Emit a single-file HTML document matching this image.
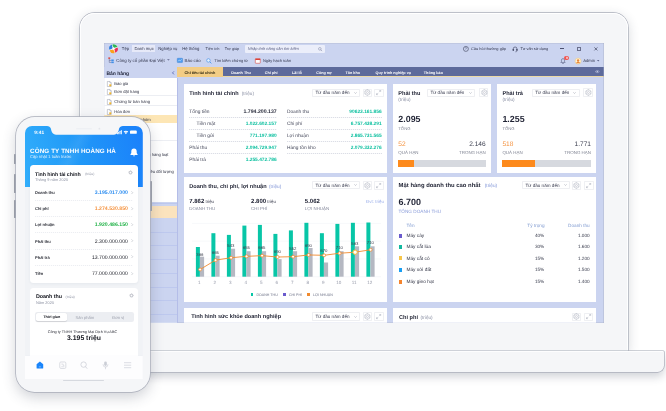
<!DOCTYPE html>
<html lang="vi"><head><meta charset="utf-8"><title>Dashboard</title>
<style>
html,body{margin:0;padding:0;background:#fff;}
body{width:666px;height:411px;overflow:hidden;position:relative;font-family:"Liberation Sans",sans-serif;text-rendering:geometricPrecision;-webkit-font-smoothing:antialiased;}
#root{position:absolute;left:0;top:0;width:666px;height:411px;overflow:hidden;will-change:transform;}
.t{position:absolute;white-space:nowrap;line-height:1;transform-origin:0 0;pointer-events:none;}
.r{position:absolute;}
svg{position:absolute;overflow:visible;}
</style></head><body><div id="root">
<div class="r" style="left:80.40px;top:13.00px;width:547.90px;height:338.00px;background:#f5f6f8;border-radius:14.5px 14.5px 0 0;box-shadow:inset 0 0 0 0.9px #fff, 0 0 0 0.7px #abafbb, 0 3px 12px rgba(40,50,70,.20);"></div>
<div class="r" style="left:44.00px;top:351.00px;width:619.70px;height:20.60px;background:#f5f6f8;border-radius:1px 1px 6.5px 6.5px;box-shadow:0 0 0 0.7px #abafbb, 0 5px 9px rgba(50,60,80,.22);clip-path:inset(-0.7px -30px -30px -30px);"></div>
<div class="r" style="left:44.50px;top:351.20px;width:618.70px;height:1.20px;background:#fdfdfe;"></div>
<div class="r" style="left:103.50px;top:42.60px;width:500.90px;height:280.20px;background:#9fa4b6;"></div>
<div class="r" id="screen" style="left:0;top:0;width:666px;height:411px;clip-path:inset(43.30px 62.30px 88.20px 104.20px);">
<div class="r" style="left:104.20px;top:43.30px;width:499.50px;height:279.50px;background:#cbd4f0;"></div>
<svg style="left:108.5px;top:44.1px" width="9.0" height="9.3" viewBox="-10 -10 20 20"><circle r="9.9" fill="#fff"/><path d="M0 0L-9.42 2.70A9.8 9.8 0 0 1 -3.99 -8.95z" fill="#2f7fe0"/><path d="M0 0L-2.70 -9.42A9.8 9.8 0 0 1 8.95 -3.99z" fill="#2fb457"/><path d="M0 0L9.42 -2.70A9.8 9.8 0 0 1 3.99 8.95z" fill="#ea3358"/><path d="M0 0L2.70 9.42A9.8 9.8 0 0 1 -8.95 3.99z" fill="#f9a11b"/><polygon points="-2.53,-6.95 0.97,-2.08 6.95,-2.53 2.08,0.97 2.53,6.95 -0.97,2.08 -6.95,2.53 -2.08,-0.97" fill="#fff"/></svg>
<div class="r" style="left:132.20px;top:45.30px;width:23.00px;height:7.00px;background:#e6e9f8;"></div>
<div class="t" style="left:121px;top:46px;width:3000px;text-align:left;font-size:42.5px;color:#34384f;transform:translate(0.80px,0.39px) scale(0.1);">Tệp</div>
<div class="t" style="left:134px;top:46px;width:3000px;text-align:left;font-size:42.5px;color:#34384f;transform:translate(0.40px,0.39px) scale(0.1);">Danh mục</div>
<div class="t" style="left:158px;top:46px;width:3000px;text-align:left;font-size:42.5px;color:#34384f;transform:translate(0.30px,0.39px) scale(0.1);">Nghiệp vụ</div>
<div class="t" style="left:182px;top:46px;width:3000px;text-align:left;font-size:42.5px;color:#34384f;transform:translate(0.20px,0.39px) scale(0.1);">Hệ thống</div>
<div class="t" style="left:205px;top:46px;width:3000px;text-align:left;font-size:39.0px;color:#34384f;transform:translate(0.60px,0.69px) scale(0.1);">Tiện ích</div>
<div class="t" style="left:224px;top:46px;width:3000px;text-align:left;font-size:39.0px;color:#34384f;transform:translate(0.70px,0.69px) scale(0.1);">Trợ giúp</div>
<div class="r" style="left:245.40px;top:45.00px;width:80.00px;height:7.50px;background:#ebeefa;border-radius:1px;"></div>
<div class="t" style="left:247px;top:46px;width:3000px;text-align:left;font-size:40.0px;color:#5d6285;transform:translate(0.80px,0.60px) scale(0.1);font-style:italic;">Nhập tính năng cần tìm kiếm</div>
<svg style="left:318.3px;top:46.6px" width="4.4" height="4.4" viewBox="0 0 10 10"><circle cx="4.2" cy="4.2" r="3" fill="none" stroke="#6a7090" stroke-width="1"/><path d="M6.4 6.4L9.3 9.3" stroke="#6a7090" stroke-width="1.1"/></svg>
<svg style="left:462.7px;top:46.0px" width="5.8" height="5.8" viewBox="0 0 10 10"><circle cx="5" cy="5" r="4.3" fill="none" stroke="#2b2f45" stroke-width="0.9"/><text x="5" y="7.3" font-size="6.5" text-anchor="middle" fill="#3b405c" font-family="Liberation Sans, sans-serif">?</text></svg>
<div class="t" style="left:470px;top:46px;width:3000px;text-align:left;font-size:39.5px;color:#34384f;transform:translate(0.90px,0.64px) scale(0.1);">Câu hỏi thường gặp</div>
<svg style="left:512.4px;top:45.8px" width="6.2" height="6.2" viewBox="0 0 10 10"><path d="M2 6V4.6a3 3 0 0 1 6 0V6" fill="none" stroke="#3b405c" stroke-width="1"/><rect x="1" y="4.8" width="2" height="3.2" rx=".7" fill="#3b405c"/><rect x="7" y="4.8" width="2" height="3.2" rx=".7" fill="#3b405c"/><path d="M8 8c0 1-1 1.4-2.6 1.4" fill="none" stroke="#3b405c" stroke-width=".8"/></svg>
<div class="t" style="left:520px;top:46px;width:3000px;text-align:left;font-size:39.0px;color:#34384f;transform:translate(0.40px,0.69px) scale(0.1);">Tư vấn sử dụng</div>
<div class="r" style="left:560.20px;top:48.40px;width:4.20px;height:1.00px;background:#4b5070;"></div>
<div class="r" style="left:576.80px;top:46.80px;width:4.00px;height:4.20px;background:transparent;box-sizing:border-box;border:0.6px solid #6a6f8c;"></div>
<svg style="left:593.8px;top:47.0px" width="3.8" height="3.8" viewBox="0 0 10 10"><path d="M1 1L9 9M9 1L1 9" stroke="#2b2f45" stroke-width="1.6"/></svg>
<svg style="left:107.6px;top:57.4px" width="6.4" height="6.4" viewBox="0 0 10 10"><rect x="0.5" y="0.6" width="3" height="2.4" fill="#e0483e"/><path d="M2 3v5.5h3.4M2 5.4h3.4" fill="none" stroke="#5a6187" stroke-width=".8"/><rect x="5.2" y="3.9" width="3.8" height="2.6" fill="#3f8ee8"/><rect x="5.2" y="7.2" width="3.8" height="2.4" fill="#3f8ee8"/></svg>
<div class="t" style="left:116px;top:58px;width:3000px;text-align:left;font-size:44.0px;color:#34384f;transform:translate(0.20px,0.26px) scale(0.1);">Công ty cổ phần Đại Việt</div>
<svg style="left:167.2px;top:59.300000000000004px" width="2.8" height="1.8" viewBox="0 0 10 6"><path d="M0 0H10L5 6z" fill="#7b82a6"/></svg>
<svg style="left:177px;top:58.2px" width="5.8" height="4.8" viewBox="0 0 12 10"><rect x=".5" y=".5" width="11" height="9" rx="1" fill="#4e9df0" stroke="#2c73c9" stroke-width=".8"/><path d="M2.5 6.8L4.8 4.2 6.6 5.8 9.6 2.8" fill="none" stroke="#fff" stroke-width="1"/></svg>
<div class="t" style="left:184px;top:58px;width:3000px;text-align:left;font-size:44.0px;color:#34384f;transform:translate(0.50px,0.26px) scale(0.1);">Báo cáo</div>
<svg style="left:206.4px;top:57.7px" width="5.8" height="5.8" viewBox="0 0 10 10"><circle cx="4.2" cy="4.2" r="3" fill="#e9f4ff" stroke="#3f8ee8" stroke-width="1.1"/><path d="M6.5 6.5L9.3 9.3" stroke="#3f8ee8" stroke-width="1.4"/></svg>
<div class="t" style="left:214px;top:58px;width:3000px;text-align:left;font-size:40.0px;color:#34384f;transform:translate(0.20px,0.60px) scale(0.1);">Tìm kiếm chứng từ</div>
<svg style="left:255.2px;top:57.800000000000004px" width="5.6" height="5.6" viewBox="0 0 10 10"><rect x=".6" y="1.2" width="8.8" height="8.2" rx=".8" fill="#fff" stroke="#d9433a" stroke-width="1"/><rect x=".6" y="1.2" width="8.8" height="2.4" fill="#d9433a"/></svg>
<div class="t" style="left:262px;top:58px;width:3000px;text-align:left;font-size:40.0px;color:#34384f;transform:translate(0.90px,0.60px) scale(0.1);">Ngày hạch toán</div>
<svg style="left:559.8px;top:57.6px" width="6" height="6" viewBox="0 0 10 10"><path d="M5 1a2.6 2.6 0 0 0-2.6 2.6V6L1.4 7.4h7.2L7.6 6V3.6A2.6 2.6 0 0 0 5 1z" fill="none" stroke="#4a5074" stroke-width=".9"/><path d="M4 8.4a1 1 0 0 0 2 0" fill="none" stroke="#4a5074" stroke-width=".9"/></svg>
<div class="r" style="left:564.40px;top:56.00px;width:5.00px;height:4.20px;background:#f0524f;border-radius:2.1px;"></div>
<div class="t" style="left:416px;top:56px;width:3000px;text-align:center;font-size:32.0px;color:#fff;transform:translate(0.90px,0.28px) scale(0.1);font-weight:700;">9</div>
<svg style="left:575.4px;top:57.5px" width="6.2" height="6.2" viewBox="0 0 10 10"><circle cx="5" cy="5" r="4.8" fill="#fff3d6" stroke="#e9b44c" stroke-width=".6"/><circle cx="5" cy="4" r="1.9" fill="#e8873a"/><path d="M1.7 8.3a3.5 3.5 0 0 1 6.6 0" fill="#e8873a"/></svg>
<div class="t" style="left:583px;top:58px;width:3000px;text-align:left;font-size:42.0px;color:#34384f;transform:translate(0.20px,0.43px) scale(0.1);">Admin</div>
<svg style="left:596.6px;top:59.9px" width="2.4" height="1.6" viewBox="0 0 10 6"><path d="M0 0H10L5 6z" fill="#5a6187"/></svg>
<div class="r" style="left:104.20px;top:66.50px;width:72.90px;height:11.30px;background:#cbd4f0;"></div>
<div class="t" style="left:106px;top:70px;width:3000px;text-align:left;font-size:50.0px;color:#1d2136;transform:translate(0.40px,0.75px) scale(0.1);font-weight:700;">Bán hàng</div>
<svg style="left:171.6px;top:70.5px" width="2.4" height="3.8" viewBox="0 0 6 10"><path d="M5 1L1.2 5 5 9" fill="none" stroke="#2f3f9a" stroke-width="1.7"/></svg>
<div class="r" style="left:104.20px;top:77.80px;width:72.90px;height:245.00px;background:#fff;"></div>
<div class="r" style="left:176.60px;top:77.80px;width:0.50px;height:245.00px;background:#b4bde8;"></div>
<svg style="left:107.2px;top:80.90px" width="4.6" height="6" viewBox="0 0 8 10"><path d="M.6.6H5L7.4 3V9.4H.6z" fill="#fff" stroke="#8a8f9e" stroke-width=".8"/><path d="M5 .6V3H7.4" fill="none" stroke="#8a8f9e" stroke-width=".7"/><rect x="4" y="5.6" width="3.4" height="3.4" fill="#f0b429"/></svg>
<div class="t" style="left:114px;top:81px;width:3000px;text-align:left;font-size:41.0px;color:#2e3142;transform:translate(0.20px,0.52px) scale(0.1);">Báo giá</div>
<svg style="left:107.2px;top:88.80px" width="4.6" height="6" viewBox="0 0 8 10"><path d="M.6.6H5L7.4 3V9.4H.6z" fill="#fff" stroke="#8a8f9e" stroke-width=".8"/><path d="M5 .6V3H7.4" fill="none" stroke="#8a8f9e" stroke-width=".7"/><rect x="4" y="5.6" width="3.4" height="3.4" fill="#f0b429"/></svg>
<div class="t" style="left:114px;top:89px;width:3000px;text-align:left;font-size:41.0px;color:#2e3142;transform:translate(0.20px,0.52px) scale(0.1);">Đơn đặt hàng</div>
<svg style="left:107.2px;top:98.90px" width="4.6" height="6" viewBox="0 0 8 10"><path d="M.6.6H5L7.4 3V9.4H.6z" fill="#fff" stroke="#8a8f9e" stroke-width=".8"/><path d="M5 .6V3H7.4" fill="none" stroke="#8a8f9e" stroke-width=".7"/><rect x="4" y="5.6" width="3.4" height="3.4" fill="#f0b429"/></svg>
<div class="t" style="left:114px;top:99px;width:3000px;text-align:left;font-size:41.0px;color:#2e3142;transform:translate(0.20px,0.52px) scale(0.1);">Chứng từ bán hàng</div>
<svg style="left:107.2px;top:108.60px" width="4.6" height="6" viewBox="0 0 8 10"><path d="M.6.6H5L7.4 3V9.4H.6z" fill="#fff" stroke="#8a8f9e" stroke-width=".8"/><path d="M5 .6V3H7.4" fill="none" stroke="#8a8f9e" stroke-width=".7"/><rect x="4" y="5.6" width="3.4" height="3.4" fill="#f0b429"/></svg>
<div class="t" style="left:114px;top:109px;width:3000px;text-align:left;font-size:41.0px;color:#2e3142;transform:translate(0.20px,0.52px) scale(0.1);">Hóa đơn</div>
<div class="r" style="left:104.20px;top:115.00px;width:72.40px;height:7.80px;background:#fde6b5;"></div>
<svg style="left:107.2px;top:116.30px" width="4.6" height="6" viewBox="0 0 8 10"><path d="M.6.6H5L7.4 3V9.4H.6z" fill="#fff" stroke="#8a8f9e" stroke-width=".8"/><path d="M5 .6V3H7.4" fill="none" stroke="#8a8f9e" stroke-width=".7"/><rect x="4" y="5.6" width="3.4" height="3.4" fill="#f0b429"/></svg>
<div class="t" style="left:114px;top:117px;width:3000px;text-align:left;font-size:41.0px;color:#2e3142;transform:translate(0.20px,0.52px) scale(0.1);">Hóa đơn theo nhóm</div>
<svg style="left:107.2px;top:125.60px" width="4.6" height="6" viewBox="0 0 8 10"><path d="M.6.6H5L7.4 3V9.4H.6z" fill="#fff" stroke="#8a8f9e" stroke-width=".8"/><path d="M5 .6V3H7.4" fill="none" stroke="#8a8f9e" stroke-width=".7"/><rect x="4" y="5.6" width="3.4" height="3.4" fill="#f0b429"/></svg>
<div class="t" style="left:114px;top:126px;width:3000px;text-align:left;font-size:41.0px;color:#2e3142;transform:translate(0.20px,0.52px) scale(0.1);">Trả lại hàng bán</div>
<svg style="left:107.2px;top:133.40px" width="4.6" height="6" viewBox="0 0 8 10"><path d="M.6.6H5L7.4 3V9.4H.6z" fill="#fff" stroke="#8a8f9e" stroke-width=".8"/><path d="M5 .6V3H7.4" fill="none" stroke="#8a8f9e" stroke-width=".7"/><rect x="4" y="5.6" width="3.4" height="3.4" fill="#f0b429"/></svg>
<div class="t" style="left:114px;top:134px;width:3000px;text-align:left;font-size:41.0px;color:#2e3142;transform:translate(0.20px,0.51px) scale(0.1);">Giảm giá</div>
<svg style="left:107.2px;top:143.30px" width="4.6" height="6" viewBox="0 0 8 10"><path d="M.6.6H5L7.4 3V9.4H.6z" fill="#fff" stroke="#8a8f9e" stroke-width=".8"/><path d="M5 .6V3H7.4" fill="none" stroke="#8a8f9e" stroke-width=".7"/><rect x="4" y="5.6" width="3.4" height="3.4" fill="#f0b429"/></svg>
<div class="t" style="left:114px;top:144px;width:3000px;text-align:left;font-size:41.0px;color:#2e3142;transform:translate(0.20px,0.51px) scale(0.1);">Thu tiền</div>
<svg style="left:107.2px;top:151.80px" width="4.6" height="6" viewBox="0 0 8 10"><path d="M.6.6H5L7.4 3V9.4H.6z" fill="#fff" stroke="#8a8f9e" stroke-width=".8"/><path d="M5 .6V3H7.4" fill="none" stroke="#8a8f9e" stroke-width=".7"/><rect x="4" y="5.6" width="3.4" height="3.4" fill="#f0b429"/></svg>
<div class="t" style="left:-132px;top:152px;width:3000px;text-align:right;font-size:41.0px;color:#2e3142;transform:translate(0.50px,0.51px) scale(0.1);">Thu tiền khách hàng hàng loạt</div>
<svg style="left:107.2px;top:160.40px" width="4.6" height="6" viewBox="0 0 8 10"><path d="M.6.6H5L7.4 3V9.4H.6z" fill="#fff" stroke="#8a8f9e" stroke-width=".8"/><path d="M5 .6V3H7.4" fill="none" stroke="#8a8f9e" stroke-width=".7"/><rect x="4" y="5.6" width="3.4" height="3.4" fill="#f0b429"/></svg>
<div class="t" style="left:114px;top:161px;width:3000px;text-align:left;font-size:41.0px;color:#2e3142;transform:translate(0.20px,0.51px) scale(0.1);">Bù trừ công nợ</div>
<svg style="left:107.2px;top:168.90px" width="4.6" height="6" viewBox="0 0 8 10"><path d="M.6.6H5L7.4 3V9.4H.6z" fill="#fff" stroke="#8a8f9e" stroke-width=".8"/><path d="M5 .6V3H7.4" fill="none" stroke="#8a8f9e" stroke-width=".7"/><rect x="4" y="5.6" width="3.4" height="3.4" fill="#f0b429"/></svg>
<div class="t" style="left:-127px;top:169px;width:3000px;text-align:right;font-size:41.0px;color:#2e3142;transform:translate(0.90px,0.51px) scale(0.1);">Đối trừ chứng từ nhiều đối tượng</div>
<svg style="left:107.2px;top:177.40px" width="4.6" height="6" viewBox="0 0 8 10"><path d="M.6.6H5L7.4 3V9.4H.6z" fill="#fff" stroke="#8a8f9e" stroke-width=".8"/><path d="M5 .6V3H7.4" fill="none" stroke="#8a8f9e" stroke-width=".7"/><rect x="4" y="5.6" width="3.4" height="3.4" fill="#f0b429"/></svg>
<div class="t" style="left:114px;top:178px;width:3000px;text-align:left;font-size:41.0px;color:#2e3142;transform:translate(0.20px,0.51px) scale(0.1);">Tính giá bán</div>
<svg style="left:107.2px;top:186.00px" width="4.6" height="6" viewBox="0 0 8 10"><path d="M.6.6H5L7.4 3V9.4H.6z" fill="#fff" stroke="#8a8f9e" stroke-width=".8"/><path d="M5 .6V3H7.4" fill="none" stroke="#8a8f9e" stroke-width=".7"/><rect x="4" y="5.6" width="3.4" height="3.4" fill="#f0b429"/></svg>
<div class="t" style="left:114px;top:186px;width:3000px;text-align:left;font-size:41.0px;color:#2e3142;transform:translate(0.20px,0.51px) scale(0.1);">Phân tích</div>
<div class="r" style="left:104.20px;top:95.40px;width:72.40px;height:0.40px;background:#eceef3;"></div>
<div class="r" style="left:104.20px;top:105.30px;width:72.40px;height:0.40px;background:#eceef3;"></div>
<div class="r" style="left:104.20px;top:140.00px;width:72.40px;height:0.40px;background:#eceef3;"></div>
<div class="r" style="left:104.20px;top:201.80px;width:72.40px;height:121.00px;background:#cbd4f0;"></div>
<div class="r" style="left:104.20px;top:202.60px;width:72.40px;height:0.80px;background:#bdc8ee;"></div>
<div class="r" style="left:104.20px;top:205.50px;width:72.40px;height:12.50px;background:#fbe3bd;"></div>
<div class="r" style="left:104.20px;top:231.55px;width:72.40px;height:0.50px;background:#bdc8ee;"></div>
<div class="r" style="left:104.20px;top:245.30px;width:72.40px;height:0.50px;background:#bdc8ee;"></div>
<div class="r" style="left:104.20px;top:259.05px;width:72.40px;height:0.50px;background:#bdc8ee;"></div>
<div class="r" style="left:104.20px;top:272.80px;width:72.40px;height:0.50px;background:#bdc8ee;"></div>
<div class="r" style="left:104.20px;top:286.55px;width:72.40px;height:0.50px;background:#bdc8ee;"></div>
<div class="r" style="left:104.20px;top:300.30px;width:72.40px;height:0.50px;background:#bdc8ee;"></div>
<div class="r" style="left:104.20px;top:314.05px;width:72.40px;height:0.50px;background:#bdc8ee;"></div>
<div class="r" style="left:104.20px;top:327.80px;width:72.40px;height:0.50px;background:#bdc8ee;"></div>
<div class="r" style="left:177.10px;top:66.50px;width:426.60px;height:10.50px;background:#5d6a9b;"></div>
<div class="r" style="left:177.10px;top:75.90px;width:426.60px;height:1.10px;background:#ecd9a6;"></div>
<div class="r" style="left:177.10px;top:67.00px;width:46.30px;height:10.00px;background:#f3cd85;"></div>
<div class="t" style="left:184px;top:70px;width:3000px;text-align:left;font-size:38.0px;color:#2a2410;transform:translate(0.60px,0.77px) scale(0.1);font-weight:700;">Chỉ tiêu tài chính</div>
<div class="t" style="left:231px;top:70px;width:3000px;text-align:left;font-size:37.5px;color:#fff;transform:translate(0.20px,0.81px) scale(0.1);font-weight:700;">Doanh Thu</div>
<div class="t" style="left:264px;top:70px;width:3000px;text-align:left;font-size:37.5px;color:#fff;transform:translate(0.80px,0.81px) scale(0.1);font-weight:700;">Chi phí</div>
<div class="t" style="left:292px;top:70px;width:3000px;text-align:left;font-size:37.5px;color:#fff;transform:translate(0.00px,0.81px) scale(0.1);font-weight:700;">Lãi lỗ</div>
<div class="t" style="left:316px;top:70px;width:3000px;text-align:left;font-size:37.5px;color:#fff;transform:translate(0.20px,0.81px) scale(0.1);font-weight:700;">Công nợ</div>
<div class="t" style="left:345px;top:70px;width:3000px;text-align:left;font-size:37.5px;color:#fff;transform:translate(0.40px,0.81px) scale(0.1);font-weight:700;">Tồn kho</div>
<div class="t" style="left:375px;top:70px;width:3000px;text-align:left;font-size:37.5px;color:#fff;transform:translate(0.60px,0.81px) scale(0.1);font-weight:700;">Quy trình nghiệp vụ</div>
<div class="t" style="left:423px;top:70px;width:3000px;text-align:left;font-size:37.5px;color:#fff;transform:translate(0.80px,0.81px) scale(0.1);font-weight:700;">Thông báo</div>
<svg style="left:595.4px;top:70.3px" width="4.6" height="3.2" viewBox="0 0 12 8"><path d="M.6 4C3 .4 9 .4 11.400 4 9 7.600 3 7.600.6 4z" fill="none" stroke="#dfe3f5" stroke-width="1"/><circle cx="6" cy="4" r="1.7" fill="#dfe3f5"/></svg>
<div class="r" style="left:183.90px;top:84.40px;width:203.60px;height:88.40px;background:#fff;"></div>
<div class="t" style="left:189px;top:90px;width:3000px;text-align:left;font-size:55.5px;color:#1f2233;transform:translate(0.20px,0.28px) scale(0.1);font-weight:700;">Tình hình tài chính</div>
<div class="t" style="left:241px;top:91px;width:3000px;text-align:left;font-size:47.0px;color:#8a8fa3;transform:translate(0.70px,0.00px) scale(0.1);">(triệu)</div>
<div class="r" style="left:312.40px;top:88.60px;width:47.50px;height:8.40px;background:#fff;box-sizing:border-box;border:0.5px solid #eeeff2;border-radius:0.8px;"></div>
<div class="t" style="left:315px;top:90px;width:3000px;text-align:left;font-size:46.0px;color:#33364a;transform:translate(0.50px,0.09px) scale(0.1);">Từ đầu năm đến</div>
<svg style="left:353.50px;top:91.90px" width="3" height="1.8" viewBox="0 0 10 6"><path d="M1 1L5 5 9 1" fill="none" stroke="#7a7f92" stroke-width="1.3"/></svg>
<div class="r" style="left:362.60px;top:88.60px;width:9.20px;height:8.60px;background:#fff;box-sizing:border-box;border:0.5px solid #eff0f3;border-radius:0.8px;"></div>
<svg style="left:363.80px;top:89.40px" width="6.8" height="7" viewBox="-10 -10 20 20"><path d="M0-8.600L7.400-4.300V4.300L0 8.600-7.400 4.300V-4.300z" fill="none" stroke="#a9adbb" stroke-width="1.500" stroke-linejoin="round"/><circle r="3" fill="none" stroke="#a9adbb" stroke-width="1.400"/><path d="M0-8.600V-5.500M0 8.600V5.500M7.400-4.300L4.800-2.800M-7.400-4.300L-4.800-2.800M7.400 4.300L4.800 2.800M-7.400 4.300L-4.800 2.800" stroke="#a9adbb" stroke-width="1"/></svg>
<div class="r" style="left:374.40px;top:88.60px;width:9.20px;height:8.60px;background:#fff;box-sizing:border-box;border:0.5px solid #eff0f3;border-radius:0.8px;"></div>
<svg style="left:376.40px;top:90.30px" width="5.2" height="5.2" viewBox="0 0 10 10"><path d="M6.2 1H9V3.8M9 1L5.8 4.200M3.8 9H1V6.200M1 9L4.200 5.800" fill="none" stroke="#a0a4b3" stroke-width=".9"/></svg>
<div class="t" style="left:189px;top:108px;width:3000px;text-align:left;font-size:48.5px;color:#45485a;transform:translate(0.30px,0.88px) scale(0.1);">Tổng tiền</div>
<div class="t" style="left:-24px;top:108px;width:3000px;text-align:right;font-size:52.0px;color:#1f2233;transform:translate(0.70px,0.58px) scale(0.1);font-weight:700;">1.794.200.137</div>
<div class="r" style="left:189px;top:117px;width:88px;height:1px;background:repeating-linear-gradient(90deg,#dcdee6 0,#dcdee6 1px,#f6f7f9 1px,#f6f7f9 2px);"></div>
<div class="t" style="left:196px;top:120px;width:3000px;text-align:left;font-size:48.5px;color:#45485a;transform:translate(0.60px,0.88px) scale(0.1);">Tiền mặt</div>
<div class="t" style="left:-24px;top:120px;width:3000px;text-align:right;font-size:48.5px;color:#10c1a1;transform:translate(0.70px,0.88px) scale(0.1);font-weight:700;">1.022.602.157</div>
<div class="r" style="left:189px;top:129px;width:88px;height:1px;background:repeating-linear-gradient(90deg,#dcdee6 0,#dcdee6 1px,#f6f7f9 1px,#f6f7f9 2px);"></div>
<div class="t" style="left:196px;top:132px;width:3000px;text-align:left;font-size:48.5px;color:#45485a;transform:translate(0.60px,0.88px) scale(0.1);">Tiền gửi</div>
<div class="t" style="left:-24px;top:132px;width:3000px;text-align:right;font-size:48.5px;color:#10c1a1;transform:translate(0.70px,0.88px) scale(0.1);font-weight:700;">771.197.980</div>
<div class="r" style="left:189px;top:141px;width:88px;height:1px;background:repeating-linear-gradient(90deg,#dcdee6 0,#dcdee6 1px,#f6f7f9 1px,#f6f7f9 2px);"></div>
<div class="t" style="left:189px;top:144px;width:3000px;text-align:left;font-size:48.5px;color:#45485a;transform:translate(0.30px,0.88px) scale(0.1);">Phải thu</div>
<div class="t" style="left:-24px;top:144px;width:3000px;text-align:right;font-size:48.5px;color:#10c1a1;transform:translate(0.70px,0.88px) scale(0.1);font-weight:700;">2.094.729.947</div>
<div class="r" style="left:189px;top:153px;width:88px;height:1px;background:repeating-linear-gradient(90deg,#dcdee6 0,#dcdee6 1px,#f6f7f9 1px,#f6f7f9 2px);"></div>
<div class="t" style="left:189px;top:156px;width:3000px;text-align:left;font-size:48.5px;color:#45485a;transform:translate(0.30px,0.88px) scale(0.1);">Phải trả</div>
<div class="t" style="left:-24px;top:156px;width:3000px;text-align:right;font-size:48.5px;color:#10c1a1;transform:translate(0.70px,0.88px) scale(0.1);font-weight:700;">1.255.472.786</div>
<div class="t" style="left:286px;top:108px;width:3000px;text-align:left;font-size:48.5px;color:#45485a;transform:translate(0.90px,0.88px) scale(0.1);">Doanh thu</div>
<div class="t" style="left:81px;top:108px;width:3000px;text-align:right;font-size:48.5px;color:#10c1a1;transform:translate(0.70px,0.88px) scale(0.1);font-weight:700;">90623.161.856</div>
<div class="r" style="left:287px;top:117px;width:95px;height:1px;background:repeating-linear-gradient(90deg,#dcdee6 0,#dcdee6 1px,#f6f7f9 1px,#f6f7f9 2px);"></div>
<div class="t" style="left:286px;top:120px;width:3000px;text-align:left;font-size:48.5px;color:#45485a;transform:translate(0.90px,0.88px) scale(0.1);">Chi phí</div>
<div class="t" style="left:81px;top:120px;width:3000px;text-align:right;font-size:48.5px;color:#10c1a1;transform:translate(0.70px,0.88px) scale(0.1);font-weight:700;">6.757.438.291</div>
<div class="r" style="left:287px;top:129px;width:95px;height:1px;background:repeating-linear-gradient(90deg,#dcdee6 0,#dcdee6 1px,#f6f7f9 1px,#f6f7f9 2px);"></div>
<div class="t" style="left:286px;top:132px;width:3000px;text-align:left;font-size:48.5px;color:#45485a;transform:translate(0.90px,0.88px) scale(0.1);">Lợi nhuận</div>
<div class="t" style="left:81px;top:132px;width:3000px;text-align:right;font-size:48.5px;color:#10c1a1;transform:translate(0.70px,0.88px) scale(0.1);font-weight:700;">2.865.731.565</div>
<div class="r" style="left:287px;top:141px;width:95px;height:1px;background:repeating-linear-gradient(90deg,#dcdee6 0,#dcdee6 1px,#f6f7f9 1px,#f6f7f9 2px);"></div>
<div class="t" style="left:286px;top:144px;width:3000px;text-align:left;font-size:48.5px;color:#45485a;transform:translate(0.90px,0.88px) scale(0.1);">Hàng tồn kho</div>
<div class="t" style="left:81px;top:144px;width:3000px;text-align:right;font-size:48.5px;color:#10c1a1;transform:translate(0.70px,0.88px) scale(0.1);font-weight:700;">2.079.332.276</div>
<div class="r" style="left:287px;top:153px;width:95px;height:1px;background:repeating-linear-gradient(90deg,#dcdee6 0,#dcdee6 1px,#f6f7f9 1px,#f6f7f9 2px);"></div>
<div class="r" style="left:183.90px;top:176.50px;width:203.60px;height:125.70px;background:#fff;"></div>
<div class="t" style="left:189px;top:183px;width:3000px;text-align:left;font-size:56.0px;color:#1f2233;transform:translate(0.20px,0.24px) scale(0.1);font-weight:700;">Doanh thu, chi phí, lợi nhuận</div>
<div class="t" style="left:269px;top:184px;width:3000px;text-align:left;font-size:47.0px;color:#7e93d6;transform:translate(0.00px,0.00px) scale(0.1);">(triệu)</div>
<div class="r" style="left:312.40px;top:181.00px;width:47.50px;height:8.40px;background:#fff;box-sizing:border-box;border:0.5px solid #eeeff2;border-radius:0.8px;"></div>
<div class="t" style="left:315px;top:183px;width:3000px;text-align:left;font-size:46.0px;color:#33364a;transform:translate(0.50px,0.09px) scale(0.1);">Từ đầu năm đến</div>
<svg style="left:353.50px;top:184.30px" width="3" height="1.8" viewBox="0 0 10 6"><path d="M1 1L5 5 9 1" fill="none" stroke="#7a7f92" stroke-width="1.3"/></svg>
<div class="r" style="left:362.60px;top:181.00px;width:9.20px;height:8.60px;background:#fff;box-sizing:border-box;border:0.5px solid #eff0f3;border-radius:0.8px;"></div>
<svg style="left:363.80px;top:181.80px" width="6.8" height="7" viewBox="-10 -10 20 20"><path d="M0-8.600L7.400-4.300V4.300L0 8.600-7.400 4.300V-4.300z" fill="none" stroke="#a9adbb" stroke-width="1.500" stroke-linejoin="round"/><circle r="3" fill="none" stroke="#a9adbb" stroke-width="1.400"/><path d="M0-8.600V-5.500M0 8.600V5.500M7.400-4.300L4.800-2.800M-7.400-4.300L-4.800-2.800M7.400 4.300L4.800 2.800M-7.400 4.300L-4.800 2.800" stroke="#a9adbb" stroke-width="1"/></svg>
<div class="r" style="left:374.40px;top:181.00px;width:9.20px;height:8.60px;background:#fff;box-sizing:border-box;border:0.5px solid #eff0f3;border-radius:0.8px;"></div>
<svg style="left:376.40px;top:182.70px" width="5.2" height="5.2" viewBox="0 0 10 10"><path d="M6.2 1H9V3.8M9 1L5.8 4.200M3.8 9H1V6.200M1 9L4.200 5.800" fill="none" stroke="#a0a4b3" stroke-width=".9"/></svg>
<div class="t" style="left:189px;top:197px;width:3000px;text-align:left;font-size:60.0px;color:#1f2233;transform:translate(0.20px,0.90px) scale(0.1);font-weight:700;">7.862<span style="font-weight:400;font-size:.74em;color:#3a3d4e"> triệu</span></div>
<div class="t" style="left:189px;top:206px;width:3000px;text-align:left;font-size:44.0px;color:#83879a;transform:translate(0.20px,0.26px) scale(0.1);">DOANH THU</div>
<div class="t" style="left:251px;top:197px;width:3000px;text-align:left;font-size:60.0px;color:#1f2233;transform:translate(0.10px,0.90px) scale(0.1);font-weight:700;">2.800<span style="font-weight:400;font-size:.74em;color:#3a3d4e"> triệu</span></div>
<div class="t" style="left:251px;top:206px;width:3000px;text-align:left;font-size:44.0px;color:#83879a;transform:translate(0.10px,0.26px) scale(0.1);">CHI PHÍ</div>
<div class="t" style="left:304px;top:197px;width:3000px;text-align:left;font-size:60.0px;color:#1f2233;transform:translate(0.80px,0.90px) scale(0.1);font-weight:700;">5.062</div>
<div class="t" style="left:304px;top:206px;width:3000px;text-align:left;font-size:44.0px;color:#83879a;transform:translate(0.80px,0.26px) scale(0.1);">LỢI NHUẬN</div>
<div class="t" style="left:84px;top:199px;width:3000px;text-align:right;font-size:45.0px;color:#9db0ea;transform:translate(0.00px,0.18px) scale(0.1);">Đvt: triệu</div>
<svg style="left:0;top:0" width="666" height="411" viewBox="0 0 666 411" font-family="Liberation Sans, sans-serif"><path d="M192 276.70H381" stroke="#eef0f5" stroke-width=".5"/><path d="M192 258.93H381" stroke="#eef0f5" stroke-width=".5"/><path d="M192 241.16H381" stroke="#eef0f5" stroke-width=".5"/><path d="M192 223.39H381" stroke="#eef0f5" stroke-width=".5"/><rect x="195.90" y="247.00" width="4.0" height="29.70" fill="#08c6a7"/><rect x="199.90" y="256.70" width="4.2" height="20.00" fill="#b5b8c2"/><rect x="211.40" y="233.20" width="4.0" height="43.50" fill="#08c6a7"/><rect x="215.40" y="255.70" width="4.2" height="21.00" fill="#b5b8c2"/><rect x="226.90" y="234.90" width="4.0" height="41.80" fill="#08c6a7"/><rect x="230.90" y="248.70" width="4.2" height="28.00" fill="#b5b8c2"/><rect x="242.40" y="225.60" width="4.0" height="51.10" fill="#08c6a7"/><rect x="246.40" y="251.20" width="4.2" height="25.50" fill="#b5b8c2"/><rect x="257.90" y="224.90" width="4.0" height="51.80" fill="#08c6a7"/><rect x="261.90" y="251.20" width="4.2" height="25.50" fill="#b5b8c2"/><rect x="273.40" y="233.90" width="4.0" height="42.80" fill="#08c6a7"/><rect x="277.40" y="259.10" width="4.2" height="17.60" fill="#b5b8c2"/><rect x="288.90" y="230.40" width="4.0" height="46.30" fill="#08c6a7"/><rect x="292.90" y="251.20" width="4.2" height="25.50" fill="#b5b8c2"/><rect x="304.40" y="222.80" width="4.0" height="53.90" fill="#08c6a7"/><rect x="308.40" y="248.00" width="4.2" height="28.70" fill="#b5b8c2"/><rect x="319.90" y="233.20" width="4.0" height="43.50" fill="#08c6a7"/><rect x="323.90" y="262.50" width="4.2" height="14.20" fill="#b5b8c2"/><rect x="335.40" y="223.90" width="4.0" height="52.80" fill="#08c6a7"/><rect x="339.40" y="251.20" width="4.2" height="25.50" fill="#b5b8c2"/><rect x="350.90" y="222.80" width="4.0" height="53.90" fill="#08c6a7"/><rect x="354.90" y="246.30" width="4.2" height="30.40" fill="#b5b8c2"/><rect x="366.40" y="222.50" width="4.0" height="54.20" fill="#08c6a7"/><rect x="370.40" y="246.30" width="4.2" height="30.40" fill="#b5b8c2"/><polyline fill="none" stroke="#f08a2e" stroke-width=".9" points="200.10,269.46 215.60,260.14 231.10,257.72 246.60,256.34 262.10,255.65 277.60,257.03 293.10,256.69 308.60,254.96 324.10,255.30 339.60,253.23 355.10,252.20 370.60,249.78"/><circle cx="200.10" cy="269.46" r="1.5" fill="#fff" stroke="#f08a2e" stroke-width=".8"/><circle cx="215.60" cy="260.14" r="1.5" fill="#fff" stroke="#f08a2e" stroke-width=".8"/><circle cx="231.10" cy="257.72" r="1.5" fill="#fff" stroke="#f08a2e" stroke-width=".8"/><circle cx="246.60" cy="256.34" r="1.5" fill="#fff" stroke="#f08a2e" stroke-width=".8"/><circle cx="262.10" cy="255.65" r="1.5" fill="#fff" stroke="#f08a2e" stroke-width=".8"/><circle cx="277.60" cy="257.03" r="1.5" fill="#fff" stroke="#f08a2e" stroke-width=".8"/><circle cx="293.10" cy="256.69" r="1.5" fill="#fff" stroke="#f08a2e" stroke-width=".8"/><circle cx="308.60" cy="254.96" r="1.5" fill="#fff" stroke="#f08a2e" stroke-width=".8"/><circle cx="324.10" cy="255.30" r="1.5" fill="#fff" stroke="#f08a2e" stroke-width=".8"/><circle cx="339.60" cy="253.23" r="1.5" fill="#fff" stroke="#f08a2e" stroke-width=".8"/><circle cx="355.10" cy="252.20" r="2.2" fill="#fff" stroke="#f2b632" stroke-width="1"/><circle cx="370.60" cy="249.78" r="1.5" fill="#fff" stroke="#f08a2e" stroke-width=".8"/><text x="199.90" y="256" font-size="4.3" fill="#3c3f4d" text-anchor="middle">366</text><text x="199.20" y="284" font-size="4.6" fill="#999dac" text-anchor="middle">1</text><text x="215.40" y="254" font-size="4.3" fill="#3c3f4d" text-anchor="middle">665</text><text x="214.70" y="284" font-size="4.6" fill="#999dac" text-anchor="middle">2</text><text x="230.90" y="247" font-size="4.3" fill="#3c3f4d" text-anchor="middle">543</text><text x="230.20" y="284" font-size="4.6" fill="#999dac" text-anchor="middle">3</text><text x="246.40" y="249" font-size="4.3" fill="#3c3f4d" text-anchor="middle">655</text><text x="245.70" y="284" font-size="4.6" fill="#999dac" text-anchor="middle">4</text><text x="261.90" y="249" font-size="4.3" fill="#3c3f4d" text-anchor="middle">665</text><text x="261.20" y="284" font-size="4.6" fill="#999dac" text-anchor="middle">5</text><text x="277.40" y="253" font-size="4.3" fill="#3c3f4d" text-anchor="middle">690</text><text x="276.70" y="284" font-size="4.6" fill="#999dac" text-anchor="middle">6</text><text x="292.90" y="250" font-size="4.3" fill="#3c3f4d" text-anchor="middle">552</text><text x="292.20" y="284" font-size="4.6" fill="#999dac" text-anchor="middle">7</text><text x="308.40" y="247" font-size="4.3" fill="#3c3f4d" text-anchor="middle">690</text><text x="307.70" y="284" font-size="4.6" fill="#999dac" text-anchor="middle">8</text><text x="323.90" y="252" font-size="4.3" fill="#3c3f4d" text-anchor="middle">670</text><text x="323.20" y="284" font-size="4.6" fill="#999dac" text-anchor="middle">9</text><text x="339.40" y="249" font-size="4.3" fill="#3c3f4d" text-anchor="middle">710</text><text x="338.70" y="284" font-size="4.6" fill="#999dac" text-anchor="middle">10</text><text x="354.90" y="245" font-size="4.3" fill="#3c3f4d" text-anchor="middle">563</text><text x="354.20" y="284" font-size="4.6" fill="#999dac" text-anchor="middle">11</text><text x="370.40" y="244" font-size="4.3" fill="#3c3f4d" text-anchor="middle">710</text><text x="369.70" y="284" font-size="4.6" fill="#999dac" text-anchor="middle">12</text></svg>
<div class="r" style="left:250.60px;top:292.90px;width:2.80px;height:2.90px;background:#08c6a7;"></div>
<div class="t" style="left:256px;top:292px;width:3000px;text-align:left;font-size:36.0px;color:#6b7085;transform:translate(0.40px,0.94px) scale(0.1);">DOANH THU</div>
<div class="r" style="left:283.00px;top:292.90px;width:2.80px;height:2.90px;background:#6a5acd;"></div>
<div class="t" style="left:288px;top:292px;width:3000px;text-align:left;font-size:36.0px;color:#6b7085;transform:translate(0.90px,0.94px) scale(0.1);">CHI PHÍ</div>
<div class="r" style="left:307.00px;top:292.90px;width:2.80px;height:2.90px;background:#f08a2e;"></div>
<div class="t" style="left:312px;top:292px;width:3000px;text-align:left;font-size:36.0px;color:#6b7085;transform:translate(0.90px,0.94px) scale(0.1);">LỢI NHUẬN</div>
<div class="r" style="left:183.90px;top:308.00px;width:203.60px;height:16.80px;background:#fff;"></div>
<div class="t" style="left:191px;top:313px;width:3000px;text-align:left;font-size:56.0px;color:#1f2233;transform:translate(0.20px,0.24px) scale(0.1);font-weight:700;">Tình hình sức khỏe doanh nghiệp</div>
<div class="r" style="left:312.40px;top:312.20px;width:47.50px;height:8.40px;background:#fff;box-sizing:border-box;border:0.5px solid #eeeff2;border-radius:0.8px;"></div>
<div class="t" style="left:315px;top:314px;width:3000px;text-align:left;font-size:46.0px;color:#33364a;transform:translate(0.50px,0.09px) scale(0.1);">Từ đầu năm đến</div>
<svg style="left:353.50px;top:315.50px" width="3" height="1.8" viewBox="0 0 10 6"><path d="M1 1L5 5 9 1" fill="none" stroke="#7a7f92" stroke-width="1.3"/></svg>
<div class="r" style="left:362.60px;top:312.20px;width:9.20px;height:8.60px;background:#fff;box-sizing:border-box;border:0.5px solid #eff0f3;border-radius:0.8px;"></div>
<svg style="left:363.80px;top:313.00px" width="6.8" height="7" viewBox="-10 -10 20 20"><path d="M0-8.600L7.400-4.300V4.300L0 8.600-7.400 4.300V-4.300z" fill="none" stroke="#a9adbb" stroke-width="1.500" stroke-linejoin="round"/><circle r="3" fill="none" stroke="#a9adbb" stroke-width="1.400"/><path d="M0-8.600V-5.500M0 8.600V5.500M7.400-4.300L4.800-2.800M-7.400-4.300L-4.800-2.800M7.400 4.300L4.800 2.800M-7.400 4.300L-4.800 2.800" stroke="#a9adbb" stroke-width="1"/></svg>
<div class="r" style="left:374.40px;top:312.20px;width:9.20px;height:8.60px;background:#fff;box-sizing:border-box;border:0.5px solid #eff0f3;border-radius:0.8px;"></div>
<svg style="left:376.40px;top:313.90px" width="5.2" height="5.2" viewBox="0 0 10 10"><path d="M6.2 1H9V3.8M9 1L5.8 4.200M3.8 9H1V6.200M1 9L4.200 5.800" fill="none" stroke="#a0a4b3" stroke-width=".9"/></svg>
<div class="r" style="left:393.00px;top:84.40px;width:98.00px;height:88.40px;background:#fff;"></div>
<div class="t" style="left:398px;top:90px;width:3000px;text-align:left;font-size:56.0px;color:#1f2233;transform:translate(0.30px,0.24px) scale(0.1);font-weight:700;">Phải thu</div>
<div class="t" style="left:398px;top:97px;width:3000px;text-align:left;font-size:47.0px;color:#8a8fa3;transform:translate(0.30px,0.00px) scale(0.1);">(triệu)</div>
<div class="r" style="left:427.30px;top:88.90px;width:47.60px;height:7.80px;background:#fff;box-sizing:border-box;border:0.5px solid #eeeff2;border-radius:0.8px;"></div>
<div class="t" style="left:430px;top:90px;width:3000px;text-align:left;font-size:46.0px;color:#33364a;transform:translate(0.40px,0.09px) scale(0.1);">Từ đầu năm đến</div>
<svg style="left:468.50px;top:91.90px" width="3" height="1.8" viewBox="0 0 10 6"><path d="M1 1L5 5 9 1" fill="none" stroke="#7a7f92" stroke-width="1.3"/></svg>
<div class="r" style="left:479.30px;top:88.40px;width:9.20px;height:8.60px;background:#fff;box-sizing:border-box;border:0.5px solid #eff0f3;border-radius:0.8px;"></div>
<svg style="left:480.50px;top:89.20px" width="6.8" height="7" viewBox="-10 -10 20 20"><path d="M0-8.600L7.400-4.300V4.300L0 8.600-7.400 4.300V-4.300z" fill="none" stroke="#a9adbb" stroke-width="1.500" stroke-linejoin="round"/><circle r="3" fill="none" stroke="#a9adbb" stroke-width="1.400"/><path d="M0-8.600V-5.500M0 8.600V5.500M7.400-4.300L4.800-2.800M-7.400-4.300L-4.800-2.800M7.400 4.300L4.800 2.800M-7.400 4.300L-4.800 2.800" stroke="#a9adbb" stroke-width="1"/></svg>
<div class="t" style="left:398px;top:114px;width:3000px;text-align:left;font-size:89.0px;color:#1f2233;transform:translate(0.30px,0.44px) scale(0.1);font-weight:700;">2.095</div>
<div class="t" style="left:398px;top:126px;width:3000px;text-align:left;font-size:42.0px;color:#7f8392;transform:translate(0.30px,0.43px) scale(0.1);">TỔNG</div>
<div class="t" style="left:398px;top:140px;width:3000px;text-align:left;font-size:66.0px;color:#f5923e;transform:translate(0.30px,0.39px) scale(0.1);">52</div>
<div class="t" style="left:185px;top:140px;width:3000px;text-align:right;font-size:66.0px;color:#3a3d4e;transform:translate(0.70px,0.39px) scale(0.1);">2.146</div>
<div class="t" style="left:398px;top:150px;width:3000px;text-align:left;font-size:44.5px;color:#7f8392;transform:translate(0.30px,0.22px) scale(0.1);">QUÁ HẠN</div>
<div class="t" style="left:185px;top:150px;width:3000px;text-align:right;font-size:44.5px;color:#7f8392;transform:translate(0.70px,0.22px) scale(0.1);">TRONG HẠN</div>
<div class="r" style="left:398.30px;top:160.30px;width:87.40px;height:6.80px;background:#d6d9df;"></div>
<div class="r" style="left:398.30px;top:160.30px;width:15.73px;height:6.80px;background:#fd8a1c;"></div>
<div class="r" style="left:497.10px;top:84.40px;width:99.20px;height:88.40px;background:#fff;"></div>
<div class="t" style="left:502px;top:90px;width:3000px;text-align:left;font-size:56.0px;color:#1f2233;transform:translate(0.40px,0.24px) scale(0.1);font-weight:700;">Phải trả</div>
<div class="t" style="left:502px;top:97px;width:3000px;text-align:left;font-size:47.0px;color:#8a8fa3;transform:translate(0.40px,0.00px) scale(0.1);">(triệu)</div>
<div class="r" style="left:532.20px;top:88.90px;width:47.60px;height:7.80px;background:#fff;box-sizing:border-box;border:0.5px solid #eeeff2;border-radius:0.8px;"></div>
<div class="t" style="left:535px;top:90px;width:3000px;text-align:left;font-size:46.0px;color:#33364a;transform:translate(0.30px,0.09px) scale(0.1);">Từ đầu năm đến</div>
<svg style="left:573.40px;top:91.90px" width="3" height="1.8" viewBox="0 0 10 6"><path d="M1 1L5 5 9 1" fill="none" stroke="#7a7f92" stroke-width="1.3"/></svg>
<div class="r" style="left:583.40px;top:88.40px;width:9.20px;height:8.60px;background:#fff;box-sizing:border-box;border:0.5px solid #eff0f3;border-radius:0.8px;"></div>
<svg style="left:584.60px;top:89.20px" width="6.8" height="7" viewBox="-10 -10 20 20"><path d="M0-8.600L7.400-4.300V4.300L0 8.600-7.400 4.300V-4.300z" fill="none" stroke="#a9adbb" stroke-width="1.500" stroke-linejoin="round"/><circle r="3" fill="none" stroke="#a9adbb" stroke-width="1.400"/><path d="M0-8.600V-5.500M0 8.600V5.500M7.400-4.300L4.800-2.800M-7.400-4.300L-4.800-2.800M7.400 4.300L4.800 2.800M-7.400 4.300L-4.800 2.800" stroke="#a9adbb" stroke-width="1"/></svg>
<div class="t" style="left:502px;top:114px;width:3000px;text-align:left;font-size:89.0px;color:#1f2233;transform:translate(0.40px,0.44px) scale(0.1);font-weight:700;">1.255</div>
<div class="t" style="left:502px;top:126px;width:3000px;text-align:left;font-size:42.0px;color:#7f8392;transform:translate(0.40px,0.43px) scale(0.1);">TỔNG</div>
<div class="t" style="left:502px;top:140px;width:3000px;text-align:left;font-size:66.0px;color:#f5923e;transform:translate(0.40px,0.39px) scale(0.1);">518</div>
<div class="t" style="left:291px;top:140px;width:3000px;text-align:right;font-size:66.0px;color:#3a3d4e;transform:translate(0.00px,0.39px) scale(0.1);">1.771</div>
<div class="t" style="left:502px;top:150px;width:3000px;text-align:left;font-size:44.5px;color:#7f8392;transform:translate(0.40px,0.22px) scale(0.1);">QUÁ HẠN</div>
<div class="t" style="left:291px;top:150px;width:3000px;text-align:right;font-size:44.5px;color:#7f8392;transform:translate(0.00px,0.22px) scale(0.1);">TRONG HẠN</div>
<div class="r" style="left:502.40px;top:160.30px;width:88.60px;height:6.80px;background:#d6d9df;"></div>
<div class="r" style="left:502.40px;top:160.30px;width:32.34px;height:6.80px;background:#fd8a1c;"></div>
<div class="r" style="left:393.00px;top:176.50px;width:203.30px;height:125.70px;background:#fff;"></div>
<div class="t" style="left:398px;top:181px;width:3000px;text-align:left;font-size:59.0px;color:#1f2233;transform:translate(0.60px,0.99px) scale(0.1);font-weight:700;">Mặt hàng doanh thu cao nhất</div>
<div class="t" style="left:484px;top:183px;width:3000px;text-align:left;font-size:47.0px;color:#7e93d6;transform:translate(0.80px,0.00px) scale(0.1);">(triệu)</div>
<div class="r" style="left:522.40px;top:181.00px;width:47.60px;height:8.40px;background:#fff;box-sizing:border-box;border:0.5px solid #eeeff2;border-radius:0.8px;"></div>
<div class="t" style="left:525px;top:183px;width:3000px;text-align:left;font-size:46.0px;color:#33364a;transform:translate(0.50px,0.09px) scale(0.1);">Từ đầu năm đến</div>
<svg style="left:563.60px;top:184.30px" width="3" height="1.8" viewBox="0 0 10 6"><path d="M1 1L5 5 9 1" fill="none" stroke="#7a7f92" stroke-width="1.3"/></svg>
<div class="r" style="left:572.20px;top:181.00px;width:9.20px;height:8.60px;background:#fff;box-sizing:border-box;border:0.5px solid #eff0f3;border-radius:0.8px;"></div>
<svg style="left:573.40px;top:181.80px" width="6.8" height="7" viewBox="-10 -10 20 20"><path d="M0-8.600L7.400-4.300V4.300L0 8.600-7.400 4.300V-4.300z" fill="none" stroke="#a9adbb" stroke-width="1.500" stroke-linejoin="round"/><circle r="3" fill="none" stroke="#a9adbb" stroke-width="1.400"/><path d="M0-8.600V-5.500M0 8.600V5.500M7.400-4.300L4.800-2.800M-7.400-4.300L-4.800-2.800M7.400 4.300L4.800 2.800M-7.400 4.300L-4.800 2.800" stroke="#a9adbb" stroke-width="1"/></svg>
<div class="r" style="left:584.40px;top:181.00px;width:9.20px;height:8.60px;background:#fff;box-sizing:border-box;border:0.5px solid #eff0f3;border-radius:0.8px;"></div>
<svg style="left:586.40px;top:182.70px" width="5.2" height="5.2" viewBox="0 0 10 10"><path d="M6.2 1H9V3.8M9 1L5.8 4.200M3.8 9H1V6.200M1 9L4.200 5.800" fill="none" stroke="#a0a4b3" stroke-width=".9"/></svg>
<div class="t" style="left:398px;top:197px;width:3000px;text-align:left;font-size:90.0px;color:#1f2233;transform:translate(0.40px,0.35px) scale(0.1);font-weight:700;">6.700</div>
<div class="t" style="left:398px;top:209px;width:3000px;text-align:left;font-size:47.0px;color:#8a9cd9;transform:translate(0.40px,0.00px) scale(0.1);">TỔNG DOANH THU</div>
<div class="t" style="left:406px;top:223px;width:3000px;text-align:left;font-size:47.0px;color:#7f9ad0;transform:translate(0.40px,0.00px) scale(0.1);">Tên</div>
<div class="t" style="left:244px;top:223px;width:3000px;text-align:right;font-size:47.0px;color:#7f9ad0;transform:translate(0.60px,0.00px) scale(0.1);">Tỷ trọng</div>
<div class="t" style="left:289px;top:223px;width:3000px;text-align:right;font-size:47.0px;color:#7f9ad0;transform:translate(0.70px,0.00px) scale(0.1);">Doanh thu</div>
<div class="r" style="left:398.80px;top:234.40px;width:3.20px;height:3.20px;background:#6a5acd;"></div>
<div class="t" style="left:406px;top:232px;width:3000px;text-align:left;font-size:48.0px;color:#2e3142;transform:translate(0.40px,0.92px) scale(0.1);">Máy cày</div>
<div class="t" style="left:244px;top:233px;width:3000px;text-align:right;font-size:47.0px;color:#3a3d4e;transform:translate(0.30px,0.00px) scale(0.1);">40%</div>
<div class="t" style="left:289px;top:233px;width:3000px;text-align:right;font-size:47.0px;color:#3a3d4e;transform:translate(0.70px,0.00px) scale(0.1);">1.000</div>
<div class="r" style="left:398.80px;top:245.40px;width:3.20px;height:3.20px;background:#12b8a0;"></div>
<div class="t" style="left:406px;top:243px;width:3000px;text-align:left;font-size:48.0px;color:#2e3142;transform:translate(0.40px,0.92px) scale(0.1);">Máy cắt lúa</div>
<div class="t" style="left:244px;top:244px;width:3000px;text-align:right;font-size:47.0px;color:#3a3d4e;transform:translate(0.30px,0.00px) scale(0.1);">30%</div>
<div class="t" style="left:289px;top:244px;width:3000px;text-align:right;font-size:47.0px;color:#3a3d4e;transform:translate(0.70px,0.00px) scale(0.1);">1.600</div>
<div class="r" style="left:398.80px;top:256.40px;width:3.20px;height:3.20px;background:#f7c64a;"></div>
<div class="t" style="left:406px;top:255px;width:3000px;text-align:left;font-size:48.0px;color:#2e3142;transform:translate(0.40px,0.92px) scale(0.1);">Máy cắt cỏ</div>
<div class="t" style="left:244px;top:256px;width:3000px;text-align:right;font-size:47.0px;color:#3a3d4e;transform:translate(0.30px,0.00px) scale(0.1);">15%</div>
<div class="t" style="left:289px;top:256px;width:3000px;text-align:right;font-size:47.0px;color:#3a3d4e;transform:translate(0.70px,0.00px) scale(0.1);">1.200</div>
<div class="r" style="left:398.80px;top:268.40px;width:3.20px;height:3.20px;background:#189ef2;"></div>
<div class="t" style="left:406px;top:266px;width:3000px;text-align:left;font-size:48.0px;color:#2e3142;transform:translate(0.40px,0.92px) scale(0.1);">Máy xới đất</div>
<div class="t" style="left:244px;top:267px;width:3000px;text-align:right;font-size:47.0px;color:#3a3d4e;transform:translate(0.30px,0.00px) scale(0.1);">15%</div>
<div class="t" style="left:289px;top:267px;width:3000px;text-align:right;font-size:47.0px;color:#3a3d4e;transform:translate(0.70px,0.00px) scale(0.1);">1.500</div>
<div class="r" style="left:398.80px;top:280.40px;width:3.20px;height:3.20px;background:#f5842c;"></div>
<div class="t" style="left:406px;top:278px;width:3000px;text-align:left;font-size:48.0px;color:#2e3142;transform:translate(0.40px,0.92px) scale(0.1);">Máy gieo hạt</div>
<div class="t" style="left:244px;top:279px;width:3000px;text-align:right;font-size:47.0px;color:#3a3d4e;transform:translate(0.30px,0.00px) scale(0.1);">15%</div>
<div class="t" style="left:289px;top:279px;width:3000px;text-align:right;font-size:47.0px;color:#3a3d4e;transform:translate(0.70px,0.00px) scale(0.1);">1.400</div>
<div class="r" style="left:393.00px;top:308.00px;width:203.30px;height:16.80px;background:#fff;"></div>
<div class="t" style="left:399px;top:314px;width:3000px;text-align:left;font-size:56.0px;color:#1f2233;transform:translate(0.00px,0.24px) scale(0.1);font-weight:700;">Chi phí</div>
<div class="t" style="left:420px;top:315px;width:3000px;text-align:left;font-size:47.0px;color:#8a8fa3;transform:translate(0.40px,0.00px) scale(0.1);">(triệu)</div>
<div class="r" style="left:571.80px;top:312.50px;width:9.20px;height:8.60px;background:#fff;box-sizing:border-box;border:0.5px solid #eff0f3;border-radius:0.8px;"></div>
<svg style="left:573.00px;top:313.30px" width="6.8" height="7" viewBox="-10 -10 20 20"><path d="M0-8.600L7.400-4.300V4.300L0 8.600-7.400 4.300V-4.300z" fill="none" stroke="#a9adbb" stroke-width="1.500" stroke-linejoin="round"/><circle r="3" fill="none" stroke="#a9adbb" stroke-width="1.400"/><path d="M0-8.600V-5.500M0 8.600V5.500M7.400-4.300L4.800-2.800M-7.400-4.300L-4.800-2.800M7.400 4.300L4.800 2.800M-7.400 4.300L-4.800 2.800" stroke="#a9adbb" stroke-width="1"/></svg>
<div class="r" style="left:584.20px;top:312.50px;width:9.20px;height:8.60px;background:#fff;box-sizing:border-box;border:0.5px solid #eff0f3;border-radius:0.8px;"></div>
<svg style="left:586.20px;top:314.20px" width="5.2" height="5.2" viewBox="0 0 10 10"><path d="M6.2 1H9V3.8M9 1L5.8 4.200M3.8 9H1V6.200M1 9L4.200 5.800" fill="none" stroke="#a0a4b3" stroke-width=".9"/></svg>
</div>
<div class="r" style="left:14.10px;top:154.10px;width:1.80px;height:9.60px;background:#a4a8b2;border-radius:0.6px;"></div>
<div class="r" style="left:14.10px;top:173.90px;width:1.80px;height:18.90px;background:#a4a8b2;border-radius:0.6px;"></div>
<div class="r" style="left:14.10px;top:200.00px;width:1.80px;height:17.70px;background:#a4a8b2;border-radius:0.6px;"></div>
<div class="r" style="left:150.20px;top:180.60px;width:2.20px;height:30.40px;background:#a4a8b2;border-radius:0.6px;"></div>
<div class="r" style="left:16.20px;top:116.80px;width:133.50px;height:275.10px;background:#f5f6f8;border-radius:18.5px;box-shadow:0 0 0 0.7px #a9adb9, 0 5px 14px rgba(50,60,80,.24);"></div>
<div class="r" style="left:0;top:0;width:666px;height:411px;clip-path:inset(125.90px 523.20px 32.10px 25.00px round 7px 7px 0 0);">
<div class="r" style="left:25.00px;top:125.90px;width:117.80px;height:253.00px;background:#f1f3f6;"></div>
<div class="r" style="left:25.00px;top:125.90px;width:117.80px;height:60.80px;background:linear-gradient(78deg,#31aefb 0%,#2199f7 45%,#1a80fb 100%);"></div>
<div class="r" style="left:60.00px;top:120.00px;width:24.00px;height:70.00px;background:linear-gradient(90deg,rgba(255,255,255,0),rgba(255,255,255,.07),rgba(255,255,255,0));transform:skewX(-28deg);"></div>
<svg style="left:0;top:0" width="666" height="411" viewBox="0 0 666 411"><path d="M46 125H124V126C120.500 126 119.300 127.500 118.900 129.500C118.300 133 116.500 134.800 112.500 134.800H57.500C53.500 134.800 51.700 133 51.100 129.500C50.700 127.500 49.500 126 46 126z" fill="#f5f6f8"/><rect x="76" y="128.200" width="16" height="1.100" rx=".55" fill="#eceef2"/><circle cx="99.400" cy="128.700" r=".9" fill="#e4e6eb"/></svg>
<div class="t" style="left:34px;top:129px;width:3000px;text-align:left;font-size:48.0px;color:#fff;transform:translate(0.20px,0.92px) scale(0.1);font-weight:700;letter-spacing:1.00px;">9:41</div>
<svg style="left:116.6px;top:130.4px" width="20.400" height="4.400" viewBox="0 0 204 44"><rect x="0" y="28" width="9" height="14" rx="2" fill="#fff"/><rect x="13" y="20" width="9" height="22" rx="2" fill="#fff"/><rect x="26" y="11" width="9" height="31" rx="2" fill="#fff"/><rect x="39" y="2" width="9" height="40" rx="2" fill="#fff"/><path d="M66 16C78 4 100 4 112 16L105 24C97 16 81 16 73 24zM77 28C83 22 95 22 101 28L89 42z" fill="#fff"/><rect x="130" y="6" width="68" height="32" rx="9" fill="#fff"/></svg>
<div class="t" style="left:30px;top:147px;width:3000px;text-align:left;font-size:63.0px;color:#fff;transform:translate(0.00px,0.65px) scale(0.1);font-weight:700;letter-spacing:1.00px;">CÔNG TY TNHH HOÀNG HÀ</div>
<div class="t" style="left:30px;top:154px;width:3000px;text-align:left;font-size:42.0px;color:rgba(255,255,255,.85);transform:translate(0.00px,0.43px) scale(0.1);">Cập nhật 1 tuần trước</div>
<svg style="left:130.200px;top:147.600px" width="8" height="9" viewBox="0 0 16 18"><path d="M8 .8C4.600.8 2.600 3.400 2.600 6.600V10.200L.9 12.600C.5 13.200.9 14 1.700 14H14.300C15.100 14 15.500 13.200 15.100 12.600L13.400 10.200V6.600C13.400 3.400 11.400.8 8 .8z" fill="#fff"/><path d="M5.800 15.200A2.300 2.300 0 0 0 10.200 15.200z" fill="#fff"/></svg>
<div class="r" style="left:29.60px;top:165.00px;width:108.20px;height:117.70px;background:#fff;border-radius:3.5px;box-shadow:0 1px 3px rgba(40,60,100,.06);"></div>
<div class="t" style="left:35px;top:171px;width:3000px;text-align:left;font-size:53.0px;color:#15171f;transform:translate(0.00px,0.50px) scale(0.1);font-weight:700;letter-spacing:-0.80px;">Tình hình tài chính</div>
<div class="t" style="left:85px;top:172px;width:3000px;text-align:left;font-size:35.0px;color:#8e93a3;transform:translate(0.20px,0.03px) scale(0.1);">(triệu)</div>
<div class="t" style="left:35px;top:177px;width:3000px;text-align:left;font-size:39.5px;color:#8e93a3;transform:translate(0.00px,0.64px) scale(0.1);">Tháng 9 năm 2020</div>
<svg style="left:127.80px;top:170.30px" width="5" height="5" viewBox="-10 -10 20 20"><circle r="6.600" fill="none" stroke="#9a9eab" stroke-width="2.400" stroke-dasharray="2.700 2.480"/><circle r="5" fill="none" stroke="#9a9eab" stroke-width="2"/></svg>
<div class="t" style="left:35px;top:190px;width:3000px;text-align:left;font-size:41.0px;color:#34363f;transform:translate(0.00px,0.51px) scale(0.1);font-weight:700;letter-spacing:-0.50px;">Doanh thu</div>
<div class="t" style="left:-173px;top:189px;width:3000px;text-align:right;font-size:51.8px;color:#2a8cf0;transform:translate(0.90px,0.60px) scale(0.1);font-weight:700;">3.195.017.000</div>
<svg style="left:130.800px;top:190.80px" width="2.200" height="3.400" viewBox="0 0 6 10"><path d="M1 1L5 5 1 9" fill="none" stroke="#a9adb8" stroke-width="1.500"/></svg>
<div class="r" style="left:35px;top:200px;width:98px;height:1px;background:repeating-linear-gradient(90deg,#eceef2 0,#eceef2 1px,#fcfcfd 1px,#fcfcfd 2px);"></div>
<div class="t" style="left:35px;top:206px;width:3000px;text-align:left;font-size:41.0px;color:#34363f;transform:translate(0.00px,0.51px) scale(0.1);font-weight:700;letter-spacing:-0.50px;">Chi phí</div>
<div class="t" style="left:-173px;top:205px;width:3000px;text-align:right;font-size:51.8px;color:#f5923e;transform:translate(0.90px,0.60px) scale(0.1);font-weight:700;">1.274.530.850</div>
<svg style="left:130.800px;top:206.95px" width="2.200" height="3.400" viewBox="0 0 6 10"><path d="M1 1L5 5 1 9" fill="none" stroke="#a9adb8" stroke-width="1.500"/></svg>
<div class="r" style="left:35px;top:216px;width:98px;height:1px;background:repeating-linear-gradient(90deg,#eceef2 0,#eceef2 1px,#fcfcfd 1px,#fcfcfd 2px);"></div>
<div class="t" style="left:35px;top:222px;width:3000px;text-align:left;font-size:41.0px;color:#34363f;transform:translate(0.00px,0.51px) scale(0.1);font-weight:700;letter-spacing:-0.50px;">Lợi nhuận</div>
<div class="t" style="left:-173px;top:221px;width:3000px;text-align:right;font-size:51.8px;color:#1fb146;transform:translate(0.90px,0.60px) scale(0.1);font-weight:700;">1.920.486.150</div>
<svg style="left:130.800px;top:223.10px" width="2.200" height="3.400" viewBox="0 0 6 10"><path d="M1 1L5 5 1 9" fill="none" stroke="#a9adb8" stroke-width="1.500"/></svg>
<div class="r" style="left:35px;top:232px;width:98px;height:1px;background:repeating-linear-gradient(90deg,#eceef2 0,#eceef2 1px,#fcfcfd 1px,#fcfcfd 2px);"></div>
<div class="t" style="left:35px;top:239px;width:3000px;text-align:left;font-size:41.0px;color:#34363f;transform:translate(0.00px,0.51px) scale(0.1);font-weight:700;letter-spacing:-0.50px;">Phải thu</div>
<div class="t" style="left:-173px;top:238px;width:3000px;text-align:right;font-size:51.8px;color:#23252e;transform:translate(0.90px,0.60px) scale(0.1);">2.300.000.000</div>
<svg style="left:130.800px;top:239.25px" width="2.200" height="3.400" viewBox="0 0 6 10"><path d="M1 1L5 5 1 9" fill="none" stroke="#a9adb8" stroke-width="1.500"/></svg>
<div class="r" style="left:35px;top:249px;width:98px;height:1px;background:repeating-linear-gradient(90deg,#eceef2 0,#eceef2 1px,#fcfcfd 1px,#fcfcfd 2px);"></div>
<div class="t" style="left:35px;top:255px;width:3000px;text-align:left;font-size:41.0px;color:#34363f;transform:translate(0.00px,0.51px) scale(0.1);font-weight:700;letter-spacing:-0.50px;">Phải trả</div>
<div class="t" style="left:-173px;top:254px;width:3000px;text-align:right;font-size:51.8px;color:#23252e;transform:translate(0.90px,0.60px) scale(0.1);">13.700.000.000</div>
<svg style="left:130.800px;top:255.40px" width="2.200" height="3.400" viewBox="0 0 6 10"><path d="M1 1L5 5 1 9" fill="none" stroke="#a9adb8" stroke-width="1.500"/></svg>
<div class="r" style="left:35px;top:265px;width:98px;height:1px;background:repeating-linear-gradient(90deg,#eceef2 0,#eceef2 1px,#fcfcfd 1px,#fcfcfd 2px);"></div>
<div class="t" style="left:35px;top:271px;width:3000px;text-align:left;font-size:41.0px;color:#34363f;transform:translate(0.00px,0.51px) scale(0.1);font-weight:700;letter-spacing:-0.50px;">Tiền</div>
<div class="t" style="left:-173px;top:270px;width:3000px;text-align:right;font-size:51.8px;color:#23252e;transform:translate(0.90px,0.60px) scale(0.1);">77.000.000.000</div>
<svg style="left:130.800px;top:271.55px" width="2.200" height="3.400" viewBox="0 0 6 10"><path d="M1 1L5 5 1 9" fill="none" stroke="#a9adb8" stroke-width="1.500"/></svg>
<div class="r" style="left:29.60px;top:288.20px;width:108.20px;height:73.80px;background:#fff;border-radius:3.5px 3.5px 0 0;"></div>
<div class="t" style="left:35px;top:293px;width:3000px;text-align:left;font-size:54.0px;color:#15171f;transform:translate(0.90px,0.41px) scale(0.1);font-weight:700;letter-spacing:-0.80px;">Doanh thu</div>
<div class="t" style="left:65px;top:295px;width:3000px;text-align:left;font-size:35.0px;color:#8e93a3;transform:translate(0.60px,0.02px) scale(0.1);">(triệu)</div>
<div class="t" style="left:35px;top:300px;width:3000px;text-align:left;font-size:39.5px;color:#8e93a3;transform:translate(0.90px,0.64px) scale(0.1);">Năm 2020</div>
<svg style="left:128.70px;top:292.60px" width="5" height="5" viewBox="-10 -10 20 20"><circle r="6.600" fill="none" stroke="#9a9eab" stroke-width="2.400" stroke-dasharray="2.700 2.480"/><circle r="5" fill="none" stroke="#9a9eab" stroke-width="2"/></svg>
<div class="r" style="left:35.40px;top:312.00px;width:98.90px;height:9.70px;background:#eceef2;border-radius:2.200px;"></div>
<div class="r" style="left:36.40px;top:312.70px;width:30.70px;height:8.30px;background:#fff;border-radius:1.800px;box-shadow:0 .3px 1px rgba(0,0,0,.12);"></div>
<div class="t" style="left:-99px;top:314px;width:3000px;text-align:center;font-size:37.5px;color:#15171f;transform:translate(0.70px,0.81px) scale(0.1);font-weight:700;">Thời gian</div>
<div class="t" style="left:-66px;top:315px;width:3000px;text-align:center;font-size:41.0px;color:#9a9eab;transform:translate(0.90px,0.51px) scale(0.1);">Sản phẩm</div>
<div class="t" style="left:-32px;top:315px;width:3000px;text-align:center;font-size:41.0px;color:#9a9eab;transform:translate(0.20px,0.51px) scale(0.1);">Đơn vị</div>
<div class="t" style="left:-68px;top:329px;width:3000px;text-align:center;font-size:38.0px;color:#2a2c36;transform:translate(0.40px,0.77px) scale(0.1);">Công ty TNHH Thương Mại Dịch Vụ ABC</div>
<div class="t" style="left:-66px;top:334px;width:3000px;text-align:center;font-size:68.5px;color:#15171f;transform:translate(0.00px,0.18px) scale(0.1);font-weight:700;">3.195 triệu</div>
<div class="r" style="left:25.00px;top:355.90px;width:117.80px;height:23.00px;background:#fdfdfe;box-shadow:0 -0.5px 1.500px rgba(40,60,100,.06);"></div>
<svg style="left:36.30px;top:361.30px" width="7.800" height="8.000" viewBox="0 0 20 20"><path d="M10 1L1.500 8V17.500A1.500 1.500 0 0 0 3 19H17A1.500 1.500 0 0 0 18.500 17.500V8z" fill="#1a85fb"/><rect x="7" y="14" width="6" height="1.600" rx=".8" fill="#8cc4ff"/></svg>
<svg style="left:58.50px;top:361.20px" width="7.600" height="8.400" viewBox="0 0 20 20"><rect x="2" y="1.500" width="16" height="17" rx="3" fill="none" stroke="#cbced6" stroke-width="1.800"/><path d="M6 7H11V11H14M6 14H14" fill="none" stroke="#cbced6" stroke-width="1.500"/></svg>
<svg style="left:79.80px;top:361.40px" width="8.000" height="8.000" viewBox="0 0 20 20"><circle cx="9" cy="9" r="6.800" fill="none" stroke="#cbced6" stroke-width="1.900"/><path d="M14 14.500L17.500 18.500" stroke="#cbced6" stroke-width="2" stroke-linecap="round"/></svg>
<svg style="left:102.10px;top:361.20px" width="7" height="8.400" viewBox="0 0 18 22"><rect x="5.500" y="1" width="7" height="12" rx="3.500" fill="#cbced6"/><path d="M2.500 9.500A6.500 6.500 0 0 0 15.500 9.500M9 16V20.500" fill="none" stroke="#cbced6" stroke-width="1.700" stroke-linecap="round"/></svg>
<svg style="left:124.00px;top:362.20px" width="7.200" height="6.400" viewBox="0 0 20 18"><path d="M1 2H19M1 9H19M1 16H19" stroke="#cbced6" stroke-width="1.900" stroke-linecap="round"/></svg>
</div>
<div class="r" style="left:62.50px;top:380.10px;width:41.40px;height:1.00px;background:#d6d9df;border-radius:.5px;"></div>
</div></body></html>
